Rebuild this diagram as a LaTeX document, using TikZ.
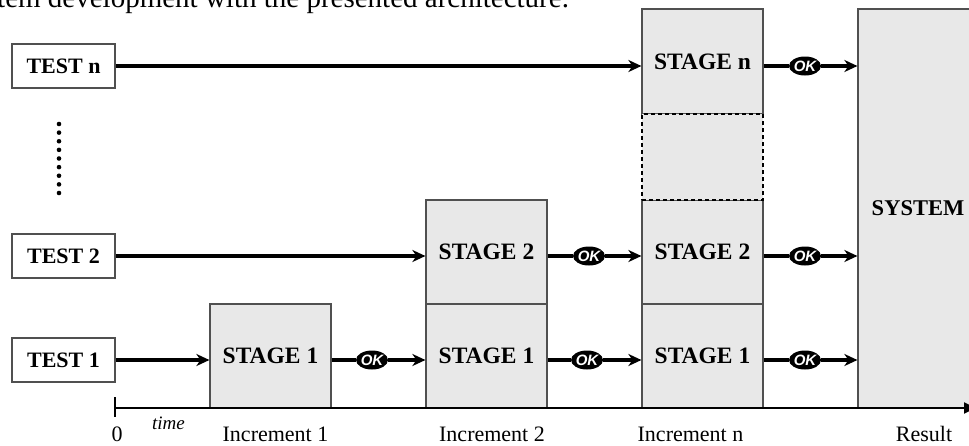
\documentclass[tikz,border=0pt]{standalone}
\usepackage{fontspec}
\setmainfont{Liberation Serif}
\newfontfamily\oksans{Liberation Sans}
\usetikzlibrary{arrows.meta,shapes.geometric}
\definecolor{cellgray}{HTML}{E8E8E8}
\definecolor{edgegray}{HTML}{505050}
\begin{document}
\begin{tikzpicture}[x=1pt,y=-1pt,
  testbox/.style={draw=edgegray, line width=1.2pt, fill=white, minimum width=103pt, minimum height=44pt, inner sep=0pt, font=\fontsize{22}{24}\selectfont\bfseries},
  cell/.style={draw=edgegray, line width=1.2pt, fill=cellgray, minimum width=121pt, minimum height=104pt, inner sep=0pt, font=\fontsize{23.5}{25}\selectfont\bfseries},
  emptycell/.style={cell, draw=black, dashed, dash pattern=on 4pt off 3pt, line width=1.6pt},
  okmark/.style={ellipse, fill=black, minimum width=32pt, minimum height=19pt, inner sep=0pt, text=white, font=\oksans\bfseries\itshape\fontsize{15}{15}\selectfont},
  flow/.style={line width=3.5pt},
  flowarr/.style={line width=3.5pt, -{Stealth[length=13pt,width=12pt,inset=4pt]}},
  lbl/.style={anchor=base, inner sep=0pt, font=\fontsize{22}{24}\selectfont},
  timelbl/.style={anchor=base, inner sep=0pt, font=\fontsize{19}{20}\selectfont\itshape}
]
\useasboundingbox (0,0) rectangle (969,445);
\clip (0,0) rectangle (969,445);

% caption fragment
\node[anchor=base west, inner sep=0pt, font=\fontsize{29}{30}\selectfont] (cap) at (-3,7.5) {tem development with the presented architecture.};

% tests
\node[testbox] (tn) at (63.5,66) {TEST n};
\node[testbox] (t2) at (63.5,256) {TEST 2};
\node[testbox] (t1) at (63.5,360) {TEST 1};

% dots
\foreach \i in {0,...,8} \fill (59,124+\i*8.625) circle (2.3pt);

% cells
\node[cell] (s11) at (270.5,356) {STAGE 1};
\node[cell] (s21) at (486.5,356) {STAGE 1};
\node[cell] (s22) at (486.5,252) {STAGE 2};
\node[cell] (sn1) at (702.5,356) {STAGE 1};
\node[cell] (sn2) at (702.5,252) {STAGE 2};
\node[cell, minimum height=105pt] (snn) at (702.5,61.5) {STAGE n};
\node[emptycell, minimum height=86pt] (sne) at (702.5,157) {};
\node[cell, minimum width=120pt, minimum height=399pt, font=\fontsize{22.5}{24}\selectfont\bfseries] (sys) at (918,208.5) {SYSTEM};

% axis
\coordinate (ax0) at (115,408);
\coordinate (axend) at (979,408);
\coordinate (tickt) at (115,397);
\coordinate (tickb) at (115,417);
\draw[line width=2.2pt, -{Latex[length=15pt,width=12pt]}] (ax0) -- (axend);
\draw[line width=1.3pt] (tickt) -- (tickb);

% test arrows
\draw[flowarr] (tn.east) -- (tn.east -| snn.west);
\draw[flowarr] (t2.east) -- (t2.east -| s22.west);
\draw[flowarr] (t1.east) -- (t1.east -| s11.west);

% OK marks
\node[okmark] (ok11) at (372,360) {OK};
\node[okmark] (ok21) at (587,360) {OK};
\node[okmark] (ok31) at (805,360) {OK};
\node[okmark] (ok22) at (589,256) {OK};
\node[okmark] (ok32) at (805,256) {OK};
\node[okmark] (okn) at (805,66) {OK};

\draw[flow] (s11.east |- ok11) -- (ok11.west);
\draw[flowarr] (ok11.east) -- (ok11.east -| s21.west);
\draw[flow] (s21.east |- ok21) -- (ok21.west);
\draw[flowarr] (ok21.east) -- (ok21.east -| sn1.west);
\draw[flow] (sn1.east |- ok31) -- (ok31.west);
\draw[flowarr] (ok31.east) -- (ok31.east -| sys.west);
\draw[flow] (s22.east |- ok22) -- (ok22.west);
\draw[flowarr] (ok22.east) -- (ok22.east -| sn2.west);
\draw[flow] (sn2.east |- ok32) -- (ok32.west);
\draw[flowarr] (ok32.east) -- (ok32.east -| sys.west);
\draw[flow] (snn.east |- okn) -- (okn.west);
\draw[flowarr] (okn.east) -- (okn.east -| sys.west);

% labels
\node[lbl] (l0) at (117,441.5) {0};
\node[timelbl] (ltime) at (168.5,429) {time};
\node[lbl] (linc1) at (275.5,441.5) {Increment 1};
\node[lbl] (linc2) at (492,441.5) {Increment 2};
\node[lbl] (lincn) at (690.5,441.5) {Increment n};
\node[lbl] (lres) at (924,441.5) {Result};
\end{tikzpicture}
\end{document}
